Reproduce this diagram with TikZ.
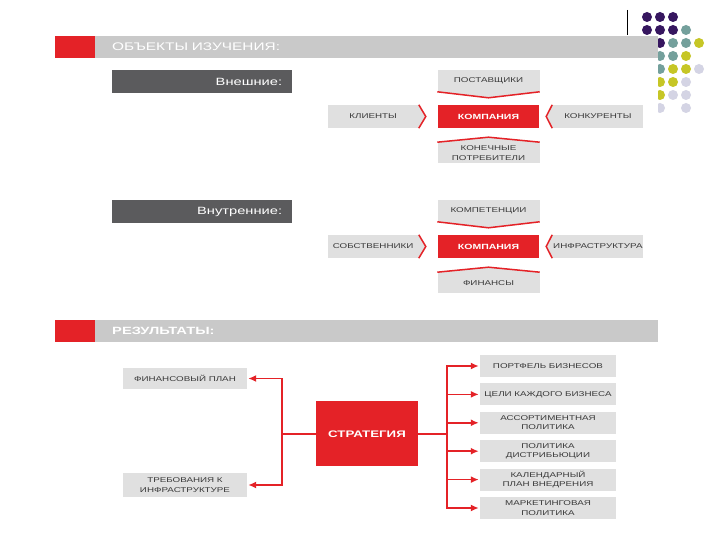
\documentclass[tikz,border=0pt]{standalone}
\usepackage{fontspec}
\setmainfont{Liberation Sans}
\newfontfamily\widefont[FakeStretch=1.4]{Liberation Sans}
\usetikzlibrary{arrows.meta, positioning, calc}

\definecolor{brandred}{HTML}{E42227}
\definecolor{boxgrey}{HTML}{E0E0E0}
\definecolor{bargrey}{HTML}{C9C9C9}
\definecolor{darkgrey}{HTML}{5B5B5D}
\definecolor{textgrey}{HTML}{3A3A3A}
\definecolor{dotpurple}{HTML}{36165F}
\definecolor{dotteal}{HTML}{74A09C}
\definecolor{dotyellow}{HTML}{C6C626}
\definecolor{dotlilac}{HTML}{D4D4E4}

\begin{document}
\begin{tikzpicture}[x=1pt, y=1pt, node distance=0pt]
    \tikzstyle{redmark} = [rectangle, fill=brandred, minimum width=40pt, minimum height=22pt, inner sep=0pt]
    \tikzstyle{headbar} = [rectangle, fill=bargrey, minimum height=22pt, text width=529pt, inner xsep=17pt, inner ysep=0pt, align=left, text=white, font=\widefont\fontsize{11}{13}\selectfont]
    \tikzstyle{subbar} = [rectangle, fill=darkgrey, minimum height=23pt, text width=160pt, inner xsep=10pt, inner ysep=0pt, align=right, text=white, font=\widefont\fontsize{10.5}{12}\selectfont]
    \tikzstyle{company} = [rectangle, fill=brandred, minimum width=101pt, minimum height=23pt, inner sep=0pt, text=white, font=\widefont\bfseries\fontsize{7.5}{9}\selectfont]
    \tikzstyle{item} = [rectangle, fill=boxgrey, minimum height=22pt, inner sep=0pt, align=center, text=textgrey, font=\widefont\fontsize{7}{9.5}\selectfont]
    \tikzstyle{result} = [item, minimum width=136pt]
    \tikzstyle{chevron} = [draw=brandred, line width=1.5pt]
    \tikzstyle{arrow} = [draw=brandred, line width=1.6pt, -{Latex[length=8pt,width=7pt]}, shorten >=1pt]

    \useasboundingbox (0,0) rectangle (720,540);
    \fill[white] (0,0) rectangle (720,540);

    % corner dots of the slide
    \foreach \cx/\cy/\col in {647/523/dotpurple, 660/523/dotpurple, 673/523/dotpurple,
        647/510/dotpurple, 660/510/dotpurple, 673/510/dotpurple, 686/510/dotteal,
        660/497/dotpurple, 673/497/dotteal, 686/497/dotteal, 699/497/dotyellow,
        660/484/dotteal, 673/484/dotteal, 686/484/dotyellow,
        660/471/dotteal, 673/471/dotyellow, 686/471/dotyellow, 699/471/dotlilac,
        660/458/dotyellow, 673/458/dotyellow, 686/458/dotlilac,
        660/445/dotyellow, 673/445/dotlilac, 686/445/dotlilac,
        660/432/dotlilac, 686/432/dotlilac}
        \fill[\col] (\cx,\cy) circle (5);
    \fill[white] (0,0) rectangle (658,505);
    \draw[line width=0.8pt] (627,530) -- (627,505);

    \node (head1) [headbar, anchor=west] at (95,493) {ОБЪЕКТЫ ИЗУЧЕНИЯ:};
    \node (mark1) [redmark, left=of head1] {};
    \node (outer) [subbar, anchor=west] at (112,458.5) {Внешние:};

    \node (comp1) [company] at (488.5,423.5) {КОМПАНИЯ};
    \node (top1) [item, minimum width=102pt, above=13pt of comp1] {ПОСТАВЩИКИ};
    \node (left1) [item, minimum width=91pt, minimum height=23pt, left=19pt of comp1] {КЛИЕНТЫ};
    \node (right1) [item, minimum width=91pt, minimum height=23pt, right=13pt of comp1] {КОНКУРЕНТЫ};
    \node (bot1) [item, minimum width=102pt, minimum height=21pt, below=14pt of comp1] {КОНЕЧНЫЕ\\ПОТРЕБИТЕЛИ};

    \node (inner) [subbar, anchor=west] at (112,328.5) {Внутренние:};

    \node (comp2) [company] at (488.5,293.5) {КОМПАНИЯ};
    \node (top2) [item, minimum width=102pt, above=13pt of comp2] {КОМПЕТЕНЦИИ};
    \node (left2) [item, minimum width=91pt, minimum height=23pt, left=19pt of comp2] {СОБСТВЕННИКИ};
    \node (right2) [item, minimum width=91pt, minimum height=23pt, right=13pt of comp2] {ИНФРАСТРУКТУРА};
    \node (bot2) [item, minimum width=102pt, minimum height=21pt, below=14pt of comp2] {ФИНАНСЫ};

    % pointed edges towards the company
    \foreach \g in {1,2} {
        \fill[boxgrey] (top\g.south west) -- ($(top\g.south)+(0,-6)$) -- (top\g.south east) -- cycle;
        \draw[chevron] (top\g.south west) -- ($(top\g.south)+(0,-6)$) -- (top\g.south east);
        \fill[boxgrey] (bot\g.north west) -- ($(bot\g.north)+(0,5)$) -- (bot\g.north east) -- cycle;
        \draw[chevron] (bot\g.north west) -- ($(bot\g.north)+(0,5)$) -- (bot\g.north east);
        \fill[boxgrey] (left\g.north east) -- ($(left\g.east)+(7,0)$) -- (left\g.south east) -- cycle;
        \draw[chevron] (left\g.north east) -- ($(left\g.east)+(7,0)$) -- (left\g.south east);
        \fill[boxgrey] (right\g.north west) -- ($(right\g.west)+(-6,0)$) -- (right\g.south west) -- cycle;
        \draw[chevron] (right\g.north west) -- ($(right\g.west)+(-6,0)$) -- (right\g.south west);
    }

    \node (head2) [headbar, anchor=west, font=\widefont\bfseries\fontsize{10.5}{13}\selectfont] at (95,209) {РЕЗУЛЬТАТЫ:};
    \node (mark2) [redmark, left=of head2] {};

    \node (strat) [company, minimum width=102pt, minimum height=65pt, font=\widefont\bfseries\fontsize{9.5}{11}\selectfont] at (367,106) {СТРАТЕГИЯ};
    \node (fin) [item, minimum width=124pt, minimum height=21pt] at (185,161.5) {ФИНАНСОВЫЙ ПЛАН};
    \node (req) [item, minimum width=124pt, minimum height=24pt] at (185,55) {ТРЕБОВАНИЯ К\\ИНФРАСТРУКТУРЕ};

    \node (res1) [result] at (548,174) {ПОРТФЕЛЬ БИЗНЕСОВ};
    \node (res2) [result, below=6pt of res1] {ЦЕЛИ КАЖДОГО БИЗНЕСА};
    \node (res3) [result, below=6pt of res2] {АССОРТИМЕНТНАЯ\\ПОЛИТИКА};
    \node (res4) [result, below=6pt of res3] {ПОЛИТИКА\\ДИСТРИБЬЮЦИИ};
    \node (res5) [result, below=6pt of res4] {КАЛЕНДАРНЫЙ\\ПЛАН ВНЕДРЕНИЯ};
    \node (res6) [result, below=6pt of res5] {МАРКЕТИНГОВАЯ\\ПОЛИТИКА};

    \coordinate (ljoin) at ($(strat.west)+(-34,0)$);
    \coordinate (rjoin) at ($(strat.east)+(29,0)$);

    \draw[arrow] (strat.west) -- (ljoin) |- (fin.east);
    \draw[arrow] (ljoin) |- (req.east);
    \draw[arrow] (strat.east) -- (rjoin) |- (res1.west);
    \foreach \r in {2,...,6}
        \draw[arrow] (rjoin) |- (res\r.west);
\end{tikzpicture}
\end{document}
